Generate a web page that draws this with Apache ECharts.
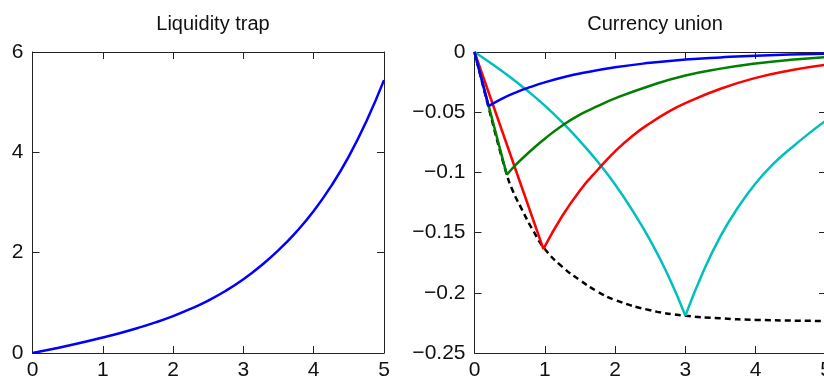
<!DOCTYPE html>
<html>
<head>
<meta charset="utf-8">
<script src="https://cdn.jsdelivr.net/npm/echarts@6/dist/echarts.min.js"></script>
<style>
html,body{margin:0;padding:0;background:#fff;}
#chart{width:824px;height:383px;}
</style>
</head>
<body>
<div id="chart"></div>
<script>
// ---- Data ----
const titles = ["Liquidity trap", "Currency union"];

// Liquidity trap
const ltX = [0,0.25,0.5,0.75,1,1.25,1.5,1.75,2,2.25,2.5,2.75,3,3.25,3.5,3.75,4,4.25,4.5,4.75,5];
const ltY = [0,0.07,0.145,0.225,0.31,0.40,0.50,0.61,0.735,0.88,1.045,1.24,1.47,1.74,2.05,2.41,2.83,3.33,3.92,4.62,5.44];

// Currency union
const envX = [0,0.2,0.46,0.55,0.65,0.84,1,1.25,1.5,1.75,2,2.5,3,3.5,4,5];
const envY = [0,-0.046,-0.102,-0.116,-0.128,-0.149,-0.1636,-0.1785,-0.1895,-0.199,-0.206,-0.2145,-0.219,-0.2212,-0.2225,-0.2234];

const blueDownX = [0,0.2];
const blueDownY = [0,-0.045];
const blueUpX = [0.2,0.4,0.6,0.8,1,1.25,1.5,2,2.5,3,3.5,4,5];
const blueUpY = [-0.045,-0.0385,-0.0333,-0.0290,-0.0252,-0.0212,-0.0179,-0.0127,-0.0090,-0.0063,-0.0045,-0.0031,-0.0015];

const greenDownX = [0,0.46];
const greenDownY = [0,-0.102];
const greenUpX = [0.46,0.6,0.8,1,1.25,1.5,1.75,2,2.5,3,3.5,4,4.5,5];
const greenUpY = [-0.102,-0.093,-0.082,-0.072,-0.061,-0.052,-0.045,-0.0385,-0.028,-0.0195,-0.0138,-0.0096,-0.0065,-0.0043];

const redDownX = [0,0.98];
const redDownY = [0,-0.1636];
const redUpX = [0.98,1.25,1.5,1.75,2,2.25,2.5,2.75,3,3.5,4,4.5,5];
const redUpY = [-0.1636,-0.136,-0.115,-0.098,-0.0825,-0.0695,-0.059,-0.050,-0.0425,-0.0305,-0.0215,-0.0152,-0.0106];

const cyanDownX = [0,0.25,0.5,0.75,1,1.25,1.5,1.75,2,2.25,2.5,2.75,3];
const cyanDownY = [0,-0.0100,-0.0205,-0.0320,-0.0445,-0.0585,-0.0740,-0.0910,-0.1100,-0.1320,-0.1565,-0.1850,-0.2190];
const cyanUpX = [3,3.25,3.5,3.75,4,4.25,4.5,4.75,5];
const cyanUpY = [-0.2190,-0.183,-0.153,-0.129,-0.109,-0.093,-0.080,-0.068,-0.057];

// ---- Chart ----
const zip = (xs, ys) => xs.map((x, i) => [x, ys[i]]);
const FONT = "'Liberation Sans', Arial, Helvetica, sans-serif";
const AX = '#222';
const labelStyle = {fontFamily: FONT, fontSize: 21, color: '#111'};
const minusFmt = v => (v < 0 ? '\u2212' + String(+(-v).toFixed(4)) : String(+v.toFixed(4)));

function xAxes(gi) {
  return [
    {gridIndex: gi, type: 'value', min: 0, max: 5, interval: 1, position: 'bottom',
     axisLine: {show: true, onZero: false, lineStyle: {color: AX, width: 1}},
     axisTick: {show: true, inside: true, length: 7, lineStyle: {color: AX}},
     axisLabel: Object.assign({margin: 7, formatter: minusFmt}, labelStyle),
     splitLine: {show: false}},
    {gridIndex: gi, type: 'value', min: 0, max: 5, interval: 1, position: 'top',
     axisLine: {show: true, onZero: false, lineStyle: {color: AX, width: 1}},
     axisTick: {show: true, inside: true, length: 7, lineStyle: {color: AX}},
     axisLabel: {show: false}, splitLine: {show: false}}
  ];
}
function yAxes(gi, min, max, interval) {
  return [
    {gridIndex: gi, type: 'value', min: min, max: max, interval: interval, position: 'left',
     axisLine: {show: true, onZero: false, lineStyle: {color: AX, width: 1}},
     axisTick: {show: true, inside: true, length: 7, lineStyle: {color: AX}},
     axisLabel: Object.assign({margin: 9, formatter: minusFmt}, labelStyle),
     splitLine: {show: false}},
    {gridIndex: gi, type: 'value', min: min, max: max, interval: interval, position: 'right',
     axisLine: {show: true, onZero: false, lineStyle: {color: AX, width: 1}},
     axisTick: {show: true, inside: true, length: 7, lineStyle: {color: AX}},
     axisLabel: {show: false}, splitLine: {show: false}}
  ];
}

function line(xs, ys, color, smooth, dashed) {
  return {type: 'line', xAxisIndex: 2, yAxisIndex: 2, data: zip(xs, ys),
    showSymbol: false, smooth: smooth, animation: false,
    lineStyle: {color: color, width: 2.5, type: dashed ? [6, 4] : 'solid'}};
}

const chart = echarts.init(document.getElementById('chart'), null, {renderer: 'canvas'});
chart.setOption({
  animation: false,
  backgroundColor: '#fff',
  title: [
    {text: titles[0], left: 208, top: 9, textAlign: 'center',
     textStyle: {fontFamily: FONT, fontSize: 20, fontWeight: 'normal', color: '#111'}},
    {text: titles[1], left: 650, top: 9, textAlign: 'center',
     textStyle: {fontFamily: FONT, fontSize: 20, fontWeight: 'normal', color: '#111'}}
  ],
  grid: [
    {left: 32.5, top: 52, width: 351.5, height: 301, outerBoundsMode: 'none', containLabel: false},
    {left: 474.5, top: 52, width: 351.5, height: 301, outerBoundsMode: 'none', containLabel: false}
  ],
  xAxis: [...xAxes(0), ...xAxes(1)],
  yAxis: [...yAxes(0, 0, 6, 2), ...yAxes(1, -0.25, 0, 0.05)],
  series: [
    {type: 'line', xAxisIndex: 0, yAxisIndex: 0, data: zip(ltX, ltY), showSymbol: false,
     smooth: 0.5, lineStyle: {color: '#0000ff', width: 2.5}},
    line(envX, envY, '#000000', 0.5, true),
    line(cyanDownX, cyanDownY, '#00bfbf', 0.5, false),
    line(cyanUpX, cyanUpY, '#00bfbf', 0.5, false),
    line(redDownX, redDownY, '#ff0000', false, false),
    line(redUpX, redUpY, '#ff0000', 0.5, false),
    line(greenDownX, greenDownY, '#008000', false, false),
    line(greenUpX, greenUpY, '#008000', 0.5, false),
    line(blueDownX, blueDownY, '#0000ff', false, false),
    line(blueUpX, blueUpY, '#0000ff', 0.5, false)
  ]
});
</script>
</body>
</html>
